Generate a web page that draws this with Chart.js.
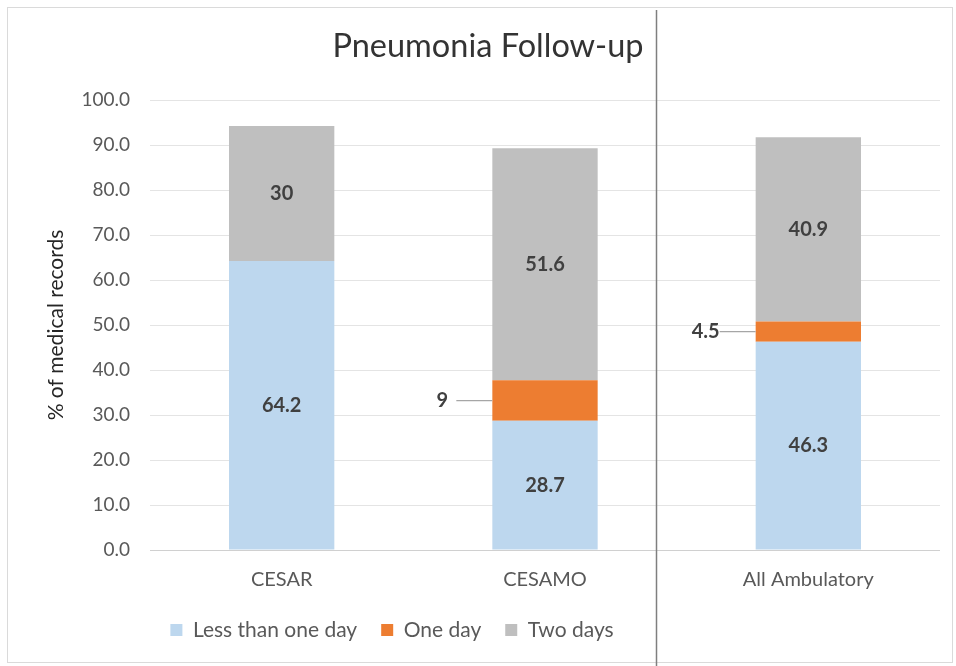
<!DOCTYPE html>
<html><head><meta charset="utf-8">
<script src="https://cdn.jsdelivr.net/npm/chart.js@4/dist/chart.umd.min.js"></script>
<style>html,body{margin:0;padding:0;background:#fff}#wrap{width:956px;height:666px}</style>
</head><body><div id="wrap"><canvas id="c" width="956" height="666"></canvas></div>
<script>
const categories = ['CESAR', 'CESAMO', 'All Ambulatory'];
const seriesNames = ['Less than one day', 'One day', 'Two days'];
const lessThanOneDay = [64.2, 28.7, 46.3];
const oneDay = [0, 9, 4.5];
const twoDays = [30, 51.6, 40.9];
const yTickValues = [0, 10, 20, 30, 40, 50, 60, 70, 80, 90, 100];

const FONT = 'Lato, "Open Sans", sans-serif';

const decor = {
  id: 'decor',
  afterLayout(chart) {
    const lg = chart.legend;
    if (lg) { lg.left = -86; lg.right = 956 - 86; }
    const tb = chart.titleBlock;
    if (tb) { tb.left = 10; tb.right = 966; }
  },
  beforeDraw(chart) {
    const ctx = chart.ctx;
    ctx.save();
    ctx.fillStyle = '#fff';
    ctx.fillRect(0, 0, chart.width, chart.height);
    ctx.strokeStyle = '#dadada';
    ctx.lineWidth = 1;
    ctx.strokeRect(7.5, 7.5, 945, 655);
    ctx.restore();
  },
  afterDatasetsDraw(chart) {
    const ctx = chart.ctx;
    ctx.save();
    ctx.font = 'bold 20px ' + FONT;
    ctx.fillStyle = '#404040';
    ctx.textBaseline = 'middle';
    chart.data.datasets.forEach((ds, di) => {
      const meta = chart.getDatasetMeta(di);
      meta.data.forEach((el, i) => {
        const v = ds.data[i];
        if (!v) return;
        const cy = (el.y + el.base) / 2;
        if (di === 1) {
          const left = el.x - el.width / 2;
          ctx.strokeStyle = '#a6a6a6';
          ctx.lineWidth = 1.2;
          ctx.beginPath();
          ctx.moveTo(left - 36, cy);
          ctx.lineTo(left, cy);
          ctx.stroke();
          ctx.textAlign = 'center';
          ctx.fillText(String(v), left - 50, cy);
        } else {
          ctx.textAlign = 'center';
          ctx.fillText(String(v), el.x, cy);
        }
      });
    });
    // separator line
    const xs = chart.scales.x;
    const p1 = xs.getPixelForValue(1), p2 = xs.getPixelForValue(2);
    const sx = Math.round(p1 + 0.42 * (p2 - p1)) + 0.5;
    ctx.strokeStyle = '#7f7f7f';
    ctx.lineWidth = 1.5;
    ctx.beginPath();
    ctx.moveTo(sx, 10);
    ctx.lineTo(sx, chart.height);
    ctx.stroke();
    ctx.restore();
  }
};

new Chart(document.getElementById('c'), {
  type: 'bar',
  data: {
    labels: categories,
    datasets: [
      { label: seriesNames[0], data: lessThanOneDay, backgroundColor: '#bdd7ee' },
      { label: seriesNames[1], data: oneDay, backgroundColor: '#ed7d31' },
      { label: seriesNames[2], data: twoDays, backgroundColor: '#bfbfbf' }
    ]
  },
  options: {
    responsive: false,
    animation: false,
    devicePixelRatio: 1,
    layout: { padding: { left: 0, right: 16, top: 0, bottom: 15.5 } },
    datasets: { bar: { barPercentage: 0.4, categoryPercentage: 1 } },
    plugins: {
      tooltip: { enabled: false },
      title: {
        display: true,
        text: 'Pneumonia Follow-up',
        color: '#333333',
        font: { family: FONT, size: 32.5, weight: 'normal' },
        padding: { top: 27.5, bottom: 33.5 }
      },
      legend: {
        position: 'bottom',
        labels: {
          color: '#595959',
          font: { family: FONT, size: 21 },
          boxWidth: 12, boxHeight: 12,
          padding: 24
        }
      }
    },
    scales: {
      x: {
        stacked: true,
        grid: { display: false, drawTicks: false },
        border: { display: false },
        ticks: { color: '#595959', font: { family: FONT, size: 20 }, padding: 18 },
        afterFit(s) { s.height = 45.5; }
      },
      y: {
        stacked: true,
        min: 0, max: 100,
        afterBuildTicks(s) { s.ticks = yTickValues.map(v => ({ value: v })); },
        grid: {
          color: (c) => c.tick && c.tick.value === 0 ? '#d0d0d0' : '#e4e4e4',
          drawTicks: false
        },
        border: { display: false },
        ticks: {
          color: '#595959',
          font: { family: FONT, size: 19 },
          padding: 20,
          callback: (v) => Number(v).toFixed(1)
        },
        title: {
          display: true,
          text: '% of medical records',
          color: '#262626',
          font: { family: FONT, size: 21 },
          padding: { top: 44, bottom: 0 }
        },
        afterFit(s) { s.width = 150; }
      }
    }
  },
  plugins: [decor]
});
</script>
</body></html>
